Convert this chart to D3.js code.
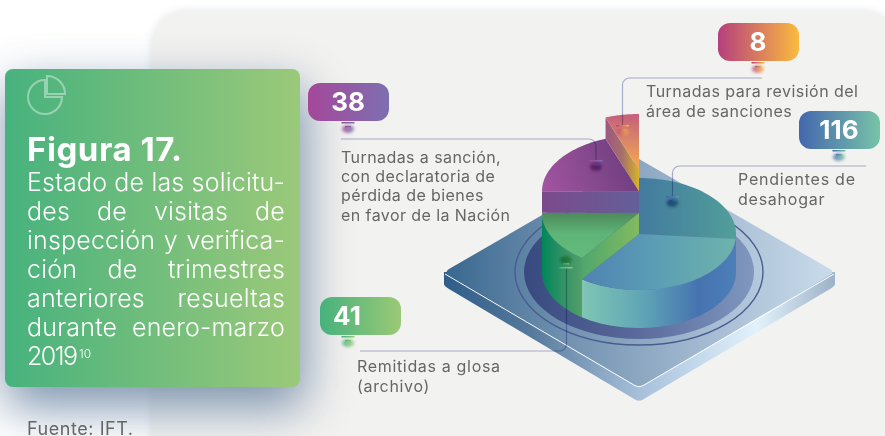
<!DOCTYPE html>
<html lang="es">
<head>
<meta charset="UTF-8">
<title>Figura 17</title>
<script src="https://d3js.org/d3.v7.min.js"></script>
<style>
    * { margin: 0; padding: 0; box-sizing: border-box; }
    html, body { width: 885px; height: 436px; overflow: hidden; background: #fff; }
    svg { display: block; font-family: Inter, "Open Sans", sans-serif; }
</style>
</head>
<body>
<svg id="chart" width="885" height="436"></svg>
<script>
// values printed on the pills
const categories = ["Pendientes de desahogar", "Remitidas a glosa (archivo)",
    "Turnadas a sanción, con declaratoria de pérdida de bienes en favor de la Nación",
    "Turnadas para revisión del área de sanciones"]
const values = [116, 41, 38, 8]
// share of the circle each slice takes as drawn (%), not quite the same as values
const sliceShare = [60, 15, 19.4, 5.6]
// the slices step upward one level each
const sliceLevel = [1, 2, 3, 4]
const titleLines = ["Estado de las solicitu-", "des de visitas de", "inspección y verifica-",
    "ción de trimestres", "anteriores resueltas", "durante enero-marzo", "2019"]
const labelLines = [
    ["Pendientes de", "desahogar"],
    ["Remitidas a glosa", "(archivo)"],
    ["Turnadas a sanción,", "con declaratoria de", "pérdida de bienes", "en favor de la Nación"],
    ["Turnadas para revisión del", "área de sanciones"],
]

const svg = d3.select("#chart")
const defs = svg.append("defs")

function grad(id, stops, x1 = 0, y1 = 0, x2 = 1, y2 = 0) {
    const g = defs.append("linearGradient").attr("id", id)
        .attr("x1", x1).attr("y1", y1).attr("x2", x2).attr("y2", y2)
    stops.forEach((c, i) => g.append("stop")
        .attr("offset", Array.isArray(c) ? c[0] : i / (stops.length - 1))
        .attr("stop-color", Array.isArray(c) ? c[1] : c))
    return `url(#${id})`
}
function blur(id, dev) {
    defs.append("filter").attr("id", id)
        .attr("x", "-100%").attr("y", "-100%").attr("width", "300%").attr("height", "300%")
        .append("feGaussianBlur").attr("stdDeviation", dev)
    return `url(#${id})`
}

// page panel and card shadow
const soft = blur("soft", 24), tiny = blur("tiny", 1.6), halo = blur("halo", 5)
svg.append("rect").attr("x", 152).attr("y", 11).attr("width", 745).attr("height", 480).attr("rx", 34)
    .attr("fill", "#e2e4e7").attr("filter", halo)
svg.append("rect").attr("x", 152).attr("y", 11).attr("width", 745).attr("height", 480).attr("rx", 34)
    .attr("fill", "#f2f2f0")
svg.append("rect").attr("x", 5).attr("y", 86).attr("width", 300).attr("height", 322).attr("rx", 10)
    .attr("fill", "#7189a6").attr("opacity", 0.9).attr("filter", soft)

// platform
const cx = 639, baseY = 272
const plat = { left: 444, right: 835, top: 159, bottom: 388, thick: 14 }
const platSlope = (plat.bottom - baseY) / (cx - plat.left)
function diamond() {
    const p = d3.path(), r = 5
    p.moveTo(cx, plat.top)
    p.lineTo(plat.right - r, baseY - r * platSlope)
    p.quadraticCurveTo(plat.right, baseY, plat.right - r, baseY + r * platSlope)
    p.lineTo(cx + 4, plat.bottom - 4 * platSlope)
    p.quadraticCurveTo(cx, plat.bottom, cx - 4, plat.bottom - 4 * platSlope)
    p.lineTo(plat.left + r, baseY + r * platSlope)
    p.quadraticCurveTo(plat.left, baseY, plat.left + r, baseY - r * platSlope)
    p.closePath()
    return p.toString()
}
function platSide() {
    const p = d3.path(), t = plat.thick, r = 5
    p.moveTo(plat.left, baseY)
    p.lineTo(plat.left, baseY + t - 2)
    p.quadraticCurveTo(plat.left, baseY + t, plat.left + r, baseY + t + r * platSlope)
    p.lineTo(cx - 4, plat.bottom + t - 4 * platSlope)
    p.quadraticCurveTo(cx, plat.bottom + t, cx + 4, plat.bottom + t - 4 * platSlope)
    p.lineTo(plat.right - r, baseY + t + r * platSlope)
    p.quadraticCurveTo(plat.right, baseY + t, plat.right, baseY + t - 2)
    p.lineTo(plat.right, baseY)
    p.closePath()
    return p.toString()
}
svg.append("path").attr("d", platSide())
    .attr("fill", grad("platSide", [[0, "#2f5d88"], [0.22, "#55799c"], [0.5, "#a7c0da"], [0.8, "#e2f2fc"], [1, "#9db2c8"]]))
svg.append("path").attr("d", diamond())
    .attr("fill", grad("platTop", ["#3a6890", "#7594b2", "#a4bad1", "#c9dbeb"]))
// white rim on the two front edges
svg.append("path").attr("fill", "none").attr("stroke", "#fff").attr("stroke-width", 1)
    .attr("d", () => {
        const p = d3.path()
        p.moveTo(plat.left + 1, baseY + 2)
        p.lineTo(cx - 4, plat.bottom - 4 * platSlope)
        p.quadraticCurveTo(cx, plat.bottom, cx + 4, plat.bottom - 4 * platSlope)
        p.lineTo(plat.right - 1, baseY + 2)
        return p.toString()
    })
// rings under the pie
svg.append("ellipse").attr("cx", cx).attr("cy", baseY).attr("rx", 115).attr("ry", 67)
    .attr("fill", grad("ringFill", ["#37497e", "#5a6a9c", "#7f98bf"]))
svg.append("ellipse").attr("cx", cx).attr("cy", baseY).attr("rx", 124).attr("ry", 73)
    .attr("fill", "none").attr("stroke", "#4a5c90").attr("stroke-width", 1.4)

// pie, drawn on an ellipse
const rx = 97, ry = 56
const rise = d3.scaleLinear().domain([1, 4]).range([38, 102])
const arcs = d3.pie().sort(null).value(d => d)(sliceShare)
const rim = (a, h) => [cx + rx * Math.sin(a), baseY - h - ry * Math.cos(a)]
const line = d3.line()
function arcPts(a0, a1, h) {
    return d3.range(0, 41).map(i => rim(a0 + (a1 - a0) * i / 40, h))
}
const wedge = (a0, a1, h) => line([[cx, baseY - h], ...arcPts(a0, a1, h)]) + "Z"
const wall = (a0, a1, h0, h1) => line([...arcPts(a0, a1, h1), ...arcPts(a1, a0, h0)]) + "Z"
const cut = (a, h0, h1) => line([[cx, baseY - h1], rim(a, h1), rim(a, h0), [cx, baseY - h0]]) + "Z"
const pieG = svg.append("g")
const face = (d, fill) => pieG.append("path").attr("d", d).attr("fill", fill)
const h = sliceLevel.map(rise)
const [blue, green, purple, orange] = arcs
const userGrad = (id, stops, x1, y1, x2, y2) => {
    const f = grad(id, stops, x1, y1, x2, y2)
    d3.select("#" + id).attr("gradientUnits", "userSpaceOnUse")
    return f
}
const split = 95 * Math.PI / 180
// blue: lit lower part, darker back part
face(wall(Math.PI / 2, blue.endAngle, 0, h[0]),
    userGrad("blueSide", [[0, "#7fc6b4"], [0.4, "#5fa4b6"], [0.75, "#4673b0"], [1, "#4c7fb8"]], 582, 0, 737, 0))
face(wedge(blue.startAngle, split, h[0]),
    userGrad("blueBack", ["#437a9f", "#529f99"], 639, 0, 737, 0))
face(wedge(split, blue.endAngle, h[0]),
    userGrad("blueFront", ["#4f82b3", "#5c9fb5", "#6eb3ab"], 582, 0, 737, 0))
// green
face(wall(green.startAngle, green.endAngle, 0, h[1]),
    userGrad("greenSide", ["#008659", "#2f9265", "#549f6a"], 542, 0, 582, 0))
face(cut(green.startAngle, h[0], h[1]),
    userGrad("greenCut", ["#4fa76d", "#82ba60"], 582, 0, 639, 0))
face(wedge(green.startAngle, green.endAngle, h[1]),
    userGrad("greenTop", ["#4e8a5c", "#5fb478", "#62bb7a"], 0, 213, 0, 255))
// purple
face(cut(purple.startAngle, h[1], h[2]),
    userGrad("purpleCut", ["#7b4a8c", "#645f98"], 542, 0, 639, 0))
face(wedge(purple.startAngle, purple.endAngle, h[2]),
    userGrad("purpleTop", ["#a0549f", "#703f80"], 545, 190, 630, 160))
// orange
face(cut(orange.startAngle, h[2], h[3]),
    userGrad("orangeCut", ["#9c5683", "#a56f6b", "#d6b32a"], 605, 0, 639, 0))
face(wedge(orange.startAngle, orange.endAngle, h[3]),
    userGrad("orangeTop", ["#c65f7c", "#dc8a66", "#fbad47"], 0, 115, 0, 172))

// pills, one per category
const pills = [
    { x: 799, y: 111, c: ["#4467ae", "#78c3a8"] },
    { x: 320, y: 297, c: ["#46b27d", "#9bc976"] },
    { x: 308, y: 83, c: ["#a5479a", "#7d6fb0"] },
    { x: 718, y: 23, c: ["#b53f7d", "#fbba3f"] },
]
const pillG = svg.append("g").selectAll("g").data(pills).join("g")
pillG.append("rect").attr("x", d => d.x).attr("y", d => d.y).attr("width", 81).attr("height", 38).attr("rx", 12)
    .attr("fill", (d, i) => grad("pill" + i, d.c))
pillG.append("text").attr("x", (d, i) => d.x + [40, 27, 40, 40][i]).attr("y", d => d.y + 28)
    .attr("text-anchor", "middle").attr("fill", "#fff").attr("font-size", 26).attr("font-weight", 700)
    .text((d, i) => values[i])

// tick and blurred dot, used below pills and at the leader ends
function marker(x, y, c, dir = 1, dotBlend = "normal") {
    const g = svg.append("g")
    g.append("rect").attr("x", x - 6.5).attr("y", y).attr("width", 13).attr("height", 1.5)
        .attr("fill", grad(`m${x}${y}`, c))
    g.append("rect").attr("x", x - 3).attr("y", y + dir * 4).attr("width", 6).attr("height", 1.5)
        .attr("fill", `url(#m${x}${y})`)
    g.append("ellipse").attr("cx", x).attr("cy", y + dir * 7).attr("rx", 6).attr("ry", 4)
        .attr("fill", `url(#m${x}${y})`).attr("opacity", 0.8).attr("filter", tiny)
        .style("mix-blend-mode", dotBlend)
}
pills.forEach((d, i) => marker(d.x + 40 - [0, 12, 0, 0][i], d.y + 39, d.c))

// leaders
function leader(pts) {
    const p = d3.path()
    p.moveTo(...pts[0])
    p.arcTo(...pts[1], ...pts[2], 7)
    p.lineTo(...pts[2])
    svg.append("path").attr("d", p.toString()).attr("fill", "none")
        .attr("stroke", "#b0b3d6").attr("stroke-width", 1.2).style("mix-blend-mode", "multiply")
}
leader([[866, 166], [672.5, 166], [672.5, 196]])
leader([[360, 351], [566.5, 351], [566.5, 267]])
leader([[341, 139], [596, 139], [596, 160]])
leader([[762, 78], [622.5, 78], [622.5, 125]])
marker(672.5, 196, ["#3f62ac", "#5c9ab0"], 1, "multiply")
marker(566, 267, pills[1].c, -1, "multiply")
marker(596, 160, pills[2].c, 1, "multiply")
marker(622.5, 125, pills[3].c)

// text helpers: squeeze or spread to the width measured in the picture
function natural(node) { return node.getComputedTextLength() }
function fitBlock(sel, longest, width) {
    sel.attr("letter-spacing", 0)
    const n = sel.filter((d, i) => i === longest).node()
    const ls = (width - natural(n)) / (n.textContent.length - 1)
    sel.attr("letter-spacing", ls)
    return ls
}

// category labels
const labelPos = [
    { x: 738, y: 185, step: 19.5, longest: 0, w: 117 },
    { x: 357, y: 372, step: 19.5, longest: 0, w: 143 },
    { x: 341, y: 163, step: 19.2, longest: 3, w: 169 },
    { x: 646, y: 97, step: 19.5, longest: 0, w: 212 },
]
labelLines.forEach((lines, i) => {
    const pos = labelPos[i]
    const t = svg.append("g").selectAll("text").data(lines).join("text")
        .attr("x", pos.x).attr("y", (d, j) => pos.y + j * pos.step)
        .attr("font-size", 16).attr("fill", "#666").text(d => d)
    fitBlock(t, pos.longest, pos.w)
})

// title card
svg.append("rect").attr("x", 5).attr("y", 69).attr("width", 295).attr("height", 318).attr("rx", 8)
    .attr("fill", grad("card", ["#47b27e", "#9bc979"]))
const icon = svg.append("g").attr("fill", "none").attr("stroke", "#fff").attr("stroke-opacity", 0.4)
    .attr("stroke-width", 2)
const iconArc = d3.arc().innerRadius(0)
icon.append("path").attr("transform", "translate(45,97)")
    .attr("d", iconArc({ outerRadius: 17, startAngle: Math.PI / 2, endAngle: Math.PI * 2 }))
icon.append("path").attr("transform", "translate(47,94)")
    .attr("d", iconArc({ outerRadius: 18, startAngle: 0, endAngle: Math.PI / 2 }))

const figura = svg.append("text").attr("x", 27).attr("y", 161).attr("font-size", 33).attr("font-weight", 700)
    .attr("fill", "#fff").text("Figura 17.")
fitBlock(figura, 0, 155)

const body = svg.append("g").selectAll("text").data(titleLines).join("text")
    .attr("x", 27).attr("y", (d, i) => 191 + i * 29)
    .attr("font-size", 25).attr("font-weight", 300).attr("fill", "#fff").text(d => d)
fitBlock(body, 0, 258)
// justified like the original, the last line stays as it is
body.filter((d, i) => i < titleLines.length - 1).each(function (d) {
    const gaps = d.split(" ").length - 1
    d3.select(this).attr("word-spacing", (258 - natural(this)) / gaps)
})
fitBlock(body.filter((d, i) => i === titleLines.length - 1), 0, 51)
svg.append("text").attr("x", 79).attr("y", 358).attr("font-size", 12).attr("font-weight", 300)
    .attr("fill", "#fff").text("10")

const fuente = svg.append("text").attr("x", 27).attr("y", 435).attr("font-size", 18).attr("fill", "#666")
    .text("Fuente: IFT.")
fitBlock(fuente, 0, 106)
</script>
</body>
</html>
